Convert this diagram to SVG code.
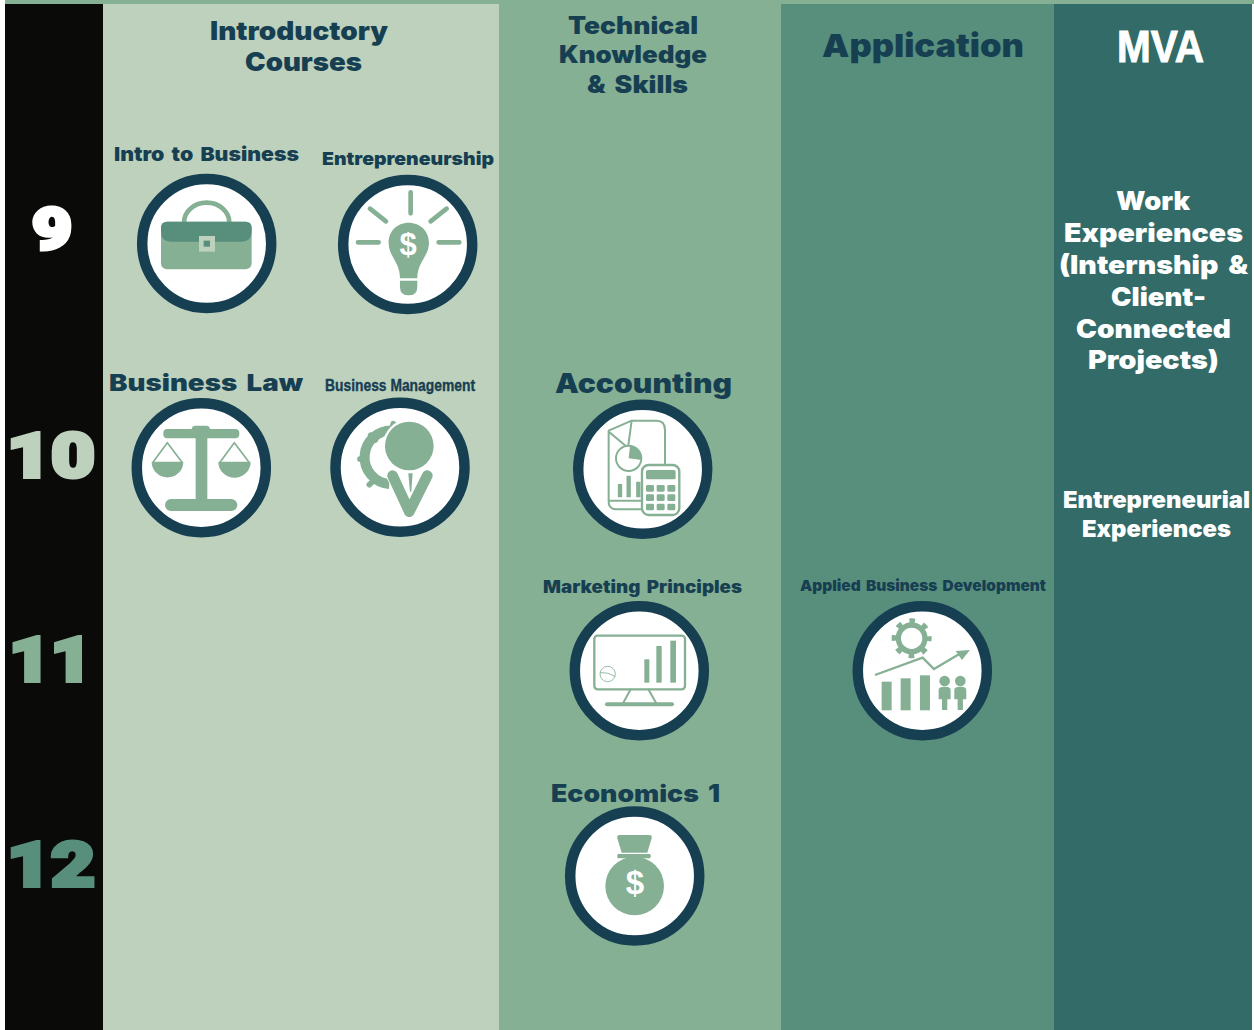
<svg xmlns="http://www.w3.org/2000/svg" width="1254" height="1030" viewBox="0 0 1254 1030">
<style>
text{font-family:Inter,"Liberation Sans",Arial,sans-serif;font-weight:900;fill:#173f52;word-spacing:.14em}
.w{fill:#fff}
.n{font-family:Roboto,"Liberation Sans",sans-serif;font-size:62px;stroke-width:4px;stroke-linejoin:miter}
.a{font-family:"Liberation Sans",Arial,sans-serif;font-weight:700}
.ring{fill:#fff;stroke:#173f52;stroke-width:10.5}
.f{fill:#86b094;stroke:none}
.d{fill:#588e7c;stroke:none}
.l{fill:none;stroke:#86b094;stroke-width:6;stroke-linecap:round;stroke-linejoin:round}
</style>
<rect width="1254" height="1030" fill="#fff"/>
<rect x="5" y="0" width="1249" height="4" fill="#86b094"/>
<g id="columns">
<rect x="5" y="4" width="98" height="1026" fill="#0a0a08"/>
<rect x="103" y="4" width="396" height="1026" fill="#bdd1bd"/>
<rect x="499" y="4" width="282" height="1026" fill="#86b094"/>
<rect x="781" y="4" width="273" height="1026" fill="#588e7c"/>
<rect x="1054" y="4" width="198" height="1026" fill="#326b68"/>
</g>
<g id="grades">
<text class="n w" style="stroke:#fff;font-size:58px" x="32" y="249" textLength="40" lengthAdjust="spacingAndGlyphs">9</text>
<text class="n" style="fill:#bdd1bd;stroke:#bdd1bd" x="7" y="477" textLength="88" lengthAdjust="spacingAndGlyphs">10</text>
<text class="n" style="fill:#86b094;stroke:#86b094" x="9" y="681" textLength="83" lengthAdjust="spacingAndGlyphs">11</text>
<text class="n" style="fill:#588e7c;stroke:#588e7c" x="7" y="886" textLength="88" lengthAdjust="spacingAndGlyphs">12</text>
</g>
<g id="headers">
<text x="210" y="40" font-size="26" textLength="178" lengthAdjust="spacingAndGlyphs">Introductory</text>
<text x="245" y="71" font-size="26" textLength="117" lengthAdjust="spacingAndGlyphs">Courses</text>
<text x="568" y="34" font-size="24" textLength="130" lengthAdjust="spacingAndGlyphs">Technical</text>
<text x="559" y="63" font-size="24" textLength="148" lengthAdjust="spacingAndGlyphs">Knowledge</text>
<text x="587" y="93" font-size="24" textLength="101" lengthAdjust="spacingAndGlyphs">&amp; Skills</text>
<text x="822" y="57" font-size="32" textLength="202" lengthAdjust="spacingAndGlyphs">Application</text>
<text class="w a" style="stroke:#fff;stroke-width:1" x="1117" y="62" font-size="44" textLength="87" lengthAdjust="spacingAndGlyphs">MVA</text>
</g>
<g id="mva-work">
<text class="w" x="1116" y="210" font-size="26" textLength="74" lengthAdjust="spacingAndGlyphs">Work</text>
<text class="w" x="1064" y="242" font-size="26" textLength="179" lengthAdjust="spacingAndGlyphs">Experiences</text>
<text class="w" x="1059" y="274" font-size="26" textLength="189" lengthAdjust="spacingAndGlyphs">(Internship &amp;</text>
<text class="w" x="1111" y="306" font-size="26" textLength="95" lengthAdjust="spacingAndGlyphs">Client-</text>
<text class="w" x="1076" y="338" font-size="26" textLength="155" lengthAdjust="spacingAndGlyphs">Connected</text>
<text class="w" x="1088" y="369" font-size="26" textLength="131" lengthAdjust="spacingAndGlyphs">Projects)</text>
</g>
<g id="mva-entrepreneurial">
<text class="w" x="1063" y="508" font-size="23" textLength="187" lengthAdjust="spacingAndGlyphs">Entrepreneurial</text>
<text class="w" x="1082" y="537" font-size="23" textLength="149" lengthAdjust="spacingAndGlyphs">Experiences</text>
</g>
<g id="intro-to-business">
<text x="114" y="161" font-size="19" textLength="185" lengthAdjust="spacingAndGlyphs">Intro to Business</text>
<circle class="ring" cx="206.700" cy="243.500" r="64.500"/>
<g transform="translate(100 130) scale(.3333)">
<path class="l" style="stroke-width:14" d="M252 278A68 60 0 0 1 388 278"/>
<rect class="f" x="183" y="275" width="272" height="143" rx="18"/>
<path class="d" d="M201 275H437Q455 275 455 293V305Q455 335 425 335H213Q183 335 183 305V293Q183 275 201 275Z"/>
<rect x="297" y="318" width="48" height="47" fill="#bdd1bd"/>
<rect x="311" y="332" width="19" height="18" fill="#588e7c"/>
</g>
</g>
<g id="entrepreneurship">
<text x="322" y="165" font-size="18" textLength="172" lengthAdjust="spacingAndGlyphs">Entrepreneurship</text>
<circle class="ring" cx="407.700" cy="244.500" r="64.500"/>
<g transform="translate(100 130) scale(.3333)">
<path class="l" style="stroke-width:14" d="M932 187V250M810 236L858 274M1040 236L992 274M774 337H836M1016 337H1078"/>
<path class="f" d="M926 278C962 278 987 305 987 338C987 380 952 395 952 445H900C900 395 866 380 866 338C866 305 890 278 926 278Z"/>
<path class="f" d="M900 452H952V470Q952 496 926 496Q900 496 900 470Z"/>
</g>
<text class="w a" text-anchor="middle" x="408" y="255" font-size="31">$</text>
</g>
<g id="business-law">
<text x="109" y="391" font-size="23" textLength="194" lengthAdjust="spacingAndGlyphs">Business Law</text>
<circle class="ring" cx="201.300" cy="467.700" r="64.500"/>
<g transform="translate(100 360) scale(.3333)">
<rect class="f" x="190" y="207" width="228" height="28" rx="12"/>
<rect class="f" x="275" y="197" width="55" height="28" rx="12"/>
<rect class="f" x="287" y="215" width="35" height="210"/>
<rect class="f" x="195" y="417" width="217" height="36" rx="18"/>
<path class="f" d="M155 305H250A47.500 47.500 0 0 1 155 305Z"/>
<path class="f" d="M355 305H452A48.500 48.500 0 0 1 355 305Z"/>
<path class="l" style="stroke-width:5" d="M160 305L202 248L245 305M361 305L403 248L446 305"/>
</g>
</g>
<g id="business-management">
<text class="a" x="325" y="391" font-size="17" textLength="150" lengthAdjust="spacingAndGlyphs" style="fill:#173f52;stroke:#173f52;stroke-width:.4;word-spacing:0">Business Management</text>
<circle class="ring" cx="400" cy="467.300" r="64.500"/>
<g transform="translate(100 360) scale(.3333)">
<path class="l" style="stroke-width:30;stroke-linecap:butt" d="M880 212A80 80 0 0 0 868 372"/>
<path class="l" style="stroke-width:17" d="M880 191L876 210M812 226L826 240M780 297L798 296M808 374L824 360"/>
<circle cx="928" cy="258" r="80" fill="#fff"/>
<circle class="f" cx="928" cy="258" r="73"/>
<path d="M850 335L925 475L1010 335Z" fill="#fff"/>
<path class="l" style="stroke-width:32" d="M878 347L928 455L982 347"/>
<path class="f" d="M925 340H938L934 395H930Z"/>
</g>
</g>
<g id="accounting">
<text x="555" y="393" font-size="27" textLength="177" lengthAdjust="spacingAndGlyphs">Accounting</text>
<circle class="ring" cx="642.700" cy="469.300" r="64.500"/>
<g transform="translate(530 370) scale(.3333)">
<path class="l" d="M305 152H380Q405 152 405 180V395Q405 418 380 418H262Q236 418 236 395V182ZM240 188L285 226M305 152L295 226M240 392H335"/>
<circle cx="296" cy="265" r="38" fill="#fff" stroke="#86b094" stroke-width="6"/>
<path class="f" d="M300 228A38 38 0 0 1 334 270L296 265Z"/>
<path class="l" style="stroke-width:13;stroke-linecap:butt" d="M270 382V342M296 382V317M325 382V335"/>
<rect x="336" y="285" width="112" height="150" rx="20" fill="#fff" stroke="#86b094" stroke-width="7"/>
<rect class="f" x="348" y="300" width="89" height="28" rx="5"/>
<g class="f"><rect x="348" y="345" width="24" height="20" rx="4"/><rect x="380" y="345" width="24" height="20" rx="4"/><rect x="412" y="345" width="24" height="20" rx="4"/><rect x="348" y="373" width="24" height="20" rx="4"/><rect x="380" y="373" width="24" height="20" rx="4"/><rect x="412" y="373" width="24" height="20" rx="4"/><rect x="348" y="401" width="24" height="20" rx="4"/><rect x="380" y="401" width="24" height="20" rx="4"/><rect x="412" y="401" width="24" height="20" rx="4"/></g>
</g>
</g>
<g id="marketing-principles">
<text x="543" y="593" font-size="17" textLength="199" lengthAdjust="spacingAndGlyphs">Marketing Principles</text>
<circle class="ring" cx="639.300" cy="670.700" r="64.500"/>
<g transform="translate(540 570) scale(.3333)">
<rect x="163" y="197" width="272" height="161" rx="10" fill="none" stroke="#86b094" stroke-width="7"/>
<rect class="f" x="313" y="268" width="15" height="70"/>
<rect class="f" x="349" y="228" width="16" height="110"/>
<rect class="f" x="391" y="212" width="17" height="126"/>
<circle cx="203" cy="312" r="23" fill="none" stroke="#86b094" stroke-width="2.500"/>
<path d="M180 308Q205 305 226 320" fill="none" stroke="#86b094" stroke-width="2.500"/>
<path class="l" d="M272 358L250 398M325 358L348 398"/>
<rect class="f" x="195" y="397" width="207" height="12" rx="6"/>
</g>
</g>
<g id="applied-business-development">
<text x="800" y="591" font-size="15" textLength="246" lengthAdjust="spacingAndGlyphs">Applied Business Development</text>
<circle class="ring" cx="922.300" cy="670.700" r="64.500"/>
<g transform="translate(540 570) scale(.3333)">
<circle cx="1115" cy="205" r="40" fill="none" stroke="#86b094" stroke-width="16"/>
<circle cx="1115" cy="205" r="53" fill="none" stroke="#86b094" stroke-width="14" stroke-dasharray="17 24.640" stroke-dashoffset="8.500"/>
<path class="l" style="stroke-width:7;stroke-linecap:butt;stroke-linejoin:miter" d="M1005 315L1148 263L1182 297L1262 250"/>
<path class="f" d="M1290 240L1247 243L1266 270Z"/>
<rect class="f" x="1025" y="335" width="30" height="86"/>
<rect class="f" x="1082" y="325" width="30" height="96"/>
<rect class="f" x="1140" y="316" width="30" height="105"/>
<g class="f"><circle cx="1214" cy="333" r="16"/><circle cx="1261" cy="333" r="16"/><path d="M1196 360Q1196 350 1214 350Q1232 350 1232 360V388H1222V420H1206V388H1196Z"/><path d="M1243 360Q1243 350 1261 350Q1279 350 1279 360V388H1269V420H1253V388H1243Z"/></g>
</g>
</g>
<g id="economics-1">
<text x="551" y="802" font-size="24" textLength="169" lengthAdjust="spacingAndGlyphs">Economics 1</text>
<circle class="ring" cx="634.700" cy="876" r="64.500"/>
<g transform="translate(540 770) scale(.3333)">
<path class="f" d="M238 195H328Q337 195 335 205L322 248H245L232 205Q230 195 238 195Z"/>
<rect class="f" x="232" y="252" width="100" height="13" rx="3"/>
<circle class="f" cx="284" cy="348" r="88"/>
</g>
<text class="w a" text-anchor="middle" x="635" y="894" font-size="33">$</text>
</g>
</svg>
